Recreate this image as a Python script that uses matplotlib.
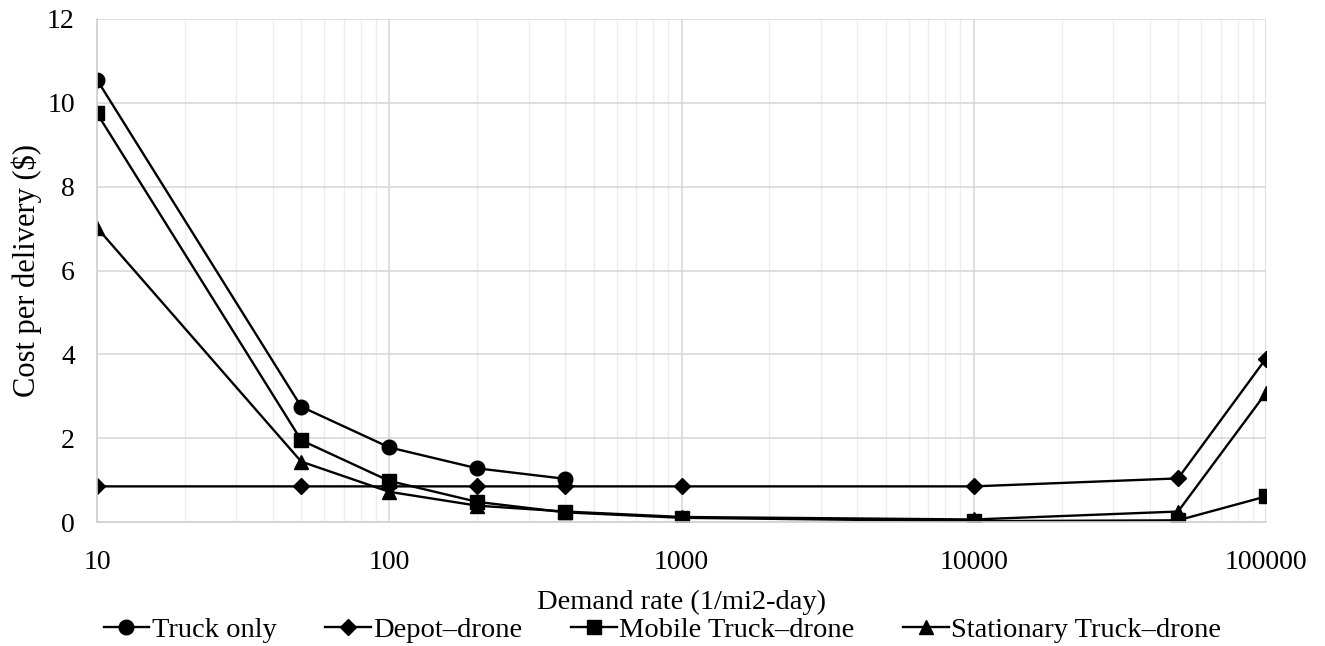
import matplotlib
matplotlib.use("Agg")
import matplotlib.pyplot as plt
from matplotlib.ticker import LogLocator, FixedLocator, NullFormatter

plt.rcParams['font.family'] = ['Liberation Serif', 'DejaVu Serif']

x_full = [10, 50, 100, 200, 400, 1000, 10000, 50000, 100000]
x_truck = [10, 50, 100, 200, 400]
truck_only = [10.55, 2.75, 1.78, 1.28, 1.03]
depot_drone = [0.85, 0.85, 0.85, 0.85, 0.85, 0.85, 0.85, 1.04, 3.9]
mobile_truck_drone = [9.75, 1.95, 0.98, 0.48, 0.23, 0.1, 0.02, 0.04, 0.61]
stationary_truck_drone = [7.02, 1.44, 0.72, 0.39, 0.25, 0.12, 0.06, 0.25, 3.08]

xticks = [10, 100, 1000, 10000, 100000]
xtick_labels = ["10", "100", "1000", "10000", "100000"]
yticks = [0, 2, 4, 6, 8, 10, 12]

fig = plt.figure(figsize=(13.25, 6.46), dpi=100)
ax = fig.add_axes([97/1325, 1 - 522/646, (1266-97)/1325, (522-19)/646])

kw = dict(color='black', linewidth=1.7, markersize=10.5)
ax.plot(x_truck, truck_only, marker='o', label='Truck only', **kw)
ax.plot(x_full, depot_drone, marker='D', label='Depot\u2013drone', color='black', linewidth=1.7, markersize=8.5)
ax.plot(x_full, mobile_truck_drone, marker='s', label='Mobile Truck\u2013drone', **kw)
ax.plot(x_full, stationary_truck_drone, marker='^', label='Stationary Truck\u2013drone', **kw)

ax.set_xscale('log')
ax.set_xlim(10, 100000)
ax.set_ylim(0, 12)
ax.xaxis.set_major_locator(FixedLocator(xticks))
ax.set_xticklabels(xtick_labels)
ax.xaxis.set_minor_locator(LogLocator(base=10, subs=range(2, 10), numticks=20))
ax.xaxis.set_minor_formatter(NullFormatter())
ax.set_yticks(yticks)

ax.grid(True, which='major', color='#d9d9d9', linewidth=1.2)
ax.grid(True, which='minor', axis='x', color='#ececec', linewidth=1.0)
ax.set_axisbelow(True)
for s in ['top', 'right']:
    ax.spines[s].set_visible(False)
for s in ['left', 'bottom']:
    ax.spines[s].set_color('#d0d0d0')
    ax.spines[s].set_linewidth(1.2)
ax.tick_params(axis='x', which='both', length=0, colors='black', pad=20)
ax.tick_params(axis='y', which='both', length=0, colors='black', pad=16)
for lbl in ax.get_xticklabels() + ax.get_yticklabels():
    lbl.set_fontsize(20)

ax.set_xlabel('Demand rate (1/mi2-day)', fontsize=20.5)
ax.xaxis.set_label_coords(0.5, -0.135)
ax.set_ylabel('Cost per delivery ($)', fontsize=22)
ax.yaxis.set_label_coords(-0.047, 0.5)

leg = fig.legend(loc='lower center', bbox_to_anchor=(0.5, -0.035), ncol=4, frameon=False,
                 fontsize=20.5, handlelength=1.6, handletextpad=0.1, columnspacing=1.7)

fig.savefig('out.png', dpi=100)
